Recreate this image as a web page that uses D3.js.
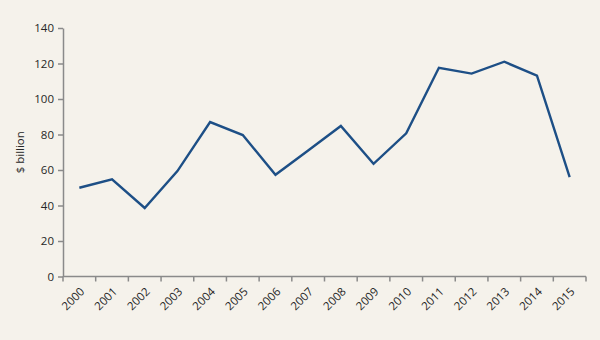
<!DOCTYPE html>
<html>
<head>
<meta charset="utf-8">
<script src="https://cdn.jsdelivr.net/npm/d3@7"></script>
<style>
  body { margin: 0; background: #f5f2eb; }
  text { font-family: "Open Sans", sans-serif; }
</style>
</head>
<body>
<div id="chart"></div>
<script>
// Data
const years = ["2000", "2001", "2002", "2003", "2004", "2005", "2006", "2007",
               "2008", "2009", "2010", "2011", "2012", "2013", "2014", "2015"];
const values = [50, 54.8, 38.6, 59.4, 87, 79.7, 57.3, 71, 84.8, 63.5, 80.7, 117.6, 114.3, 121, 113.1, 56];
const yTicks = [0, 20, 40, 60, 80, 100, 120, 140];

const width = 600, height = 340;
const margin = {top: 28, right: 14, bottom: 63.5, left: 63};

const svg = d3.select("#chart")
  .append("svg")
  .attr("width", width)
  .attr("height", height)
  .style("background", "#f5f2eb");

const x = d3.scaleBand()
  .domain(years)
  .range([margin.left, width - margin.right]);

const y = d3.scaleLinear()
  .domain([0, 140])
  .range([height - margin.bottom, margin.top]);

const axisColor = "#8a8a8a";
const textColor = "#262626";

// y axis
const yAxis = svg.append("g")
  .attr("transform", `translate(${margin.left},0)`)
  .call(d3.axisLeft(y).tickValues(yTicks).tickSize(5).tickPadding(4).tickSizeOuter(0));
yAxis.select(".domain").attr("stroke", axisColor).attr("stroke-width", 1.5);
yAxis.selectAll(".tick line").attr("stroke", axisColor).attr("stroke-width", 1.5);
yAxis.selectAll("text").style("font-size", "11.5px").attr("fill", textColor);

// x axis: ticks at band boundaries
const xAxis = svg.append("g")
  .attr("transform", `translate(0,${height - margin.bottom})`);
xAxis.append("line")
  .attr("x1", x.range()[0]).attr("x2", x.range()[1])
  .attr("stroke", axisColor).attr("stroke-width", 1.5);
xAxis.selectAll(".xtick")
  .data(years.concat(["end"]))
  .enter().append("line")
  .attr("x1", (d, i) => x.range()[0] + i * x.step())
  .attr("x2", (d, i) => x.range()[0] + i * x.step())
  .attr("y1", 0).attr("y2", 5)
  .attr("stroke", axisColor).attr("stroke-width", 1.5);
xAxis.selectAll(".xlabel")
  .data(years)
  .enter().append("text")
  .attr("transform", d => `translate(${x(d) + x.bandwidth() / 2 + 3},${13}) rotate(-45)`)
  .attr("text-anchor", "end")
  .attr("dy", "0.35em")
  .style("font-size", "11.5px")
  .attr("fill", textColor)
  .text(d => d);

// the line
const line = d3.line()
  .x((d, i) => x(years[i]) + x.bandwidth() / 2)
  .y(d => y(d));

svg.append("path")
  .datum(values)
  .attr("fill", "none")
  .attr("stroke", "#1d4f86")
  .attr("stroke-width", 2.4)
  .attr("stroke-linejoin", "miter")
  .attr("d", line);

// y axis label
svg.append("text")
  .attr("transform", "rotate(-90)")
  .attr("x", -(margin.top + (height - margin.bottom - margin.top) / 2))
  .attr("y", 24)
  .style("text-anchor", "middle")
  .style("font-size", "11.5px")
  .attr("fill", textColor)
  .text("$ billion");
</script>
</body>
</html>
